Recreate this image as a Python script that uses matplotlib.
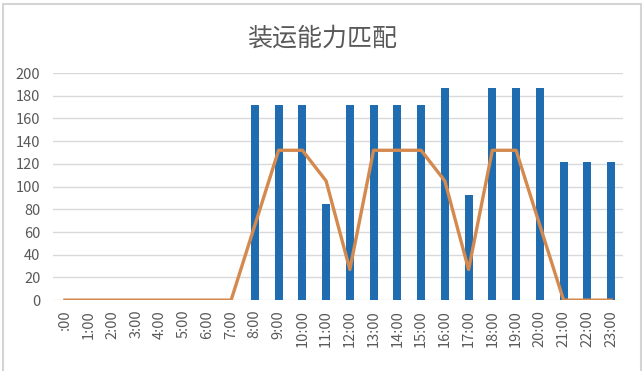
import matplotlib
matplotlib.use("Agg")
import matplotlib.pyplot as plt
from matplotlib.patches import Rectangle

plt.rcParams['font.family'] = ['Noto Sans CJK SC', 'DejaVu Sans']

title = "装运能力匹配"
hours = [":00", "1:00", "2:00", "3:00", "4:00", "5:00", "6:00", "7:00", "8:00", "9:00",
         "10:00", "11:00", "12:00", "13:00", "14:00", "15:00", "16:00", "17:00", "18:00",
         "19:00", "20:00", "21:00", "22:00", "23:00"]
capacity = [0, 0, 0, 0, 0, 0, 0, 0, 172, 172, 172, 85, 172, 172, 172, 172, 187, 93,
            187, 187, 187, 122, 122, 122]
demand = [0, 0, 0, 0, 0, 0, 0, 0, 66, 132, 132, 105, 27, 132, 132, 132, 105, 27,
          132, 132, 66, 0, 0, 0]
yticks = [0, 20, 40, 60, 80, 100, 120, 140, 160, 180, 200]

fig = plt.figure(figsize=(6.44, 3.71), dpi=100)
fig.patch.set_facecolor('white')
fig.patches.append(Rectangle((0.005, -0.05), 0.99, 1.04, transform=fig.transFigure,
                             fill=False, edgecolor='#d4d4d4', linewidth=1.5))
ax = fig.add_axes([0.0823, 0.191, 0.885, 0.612])
x = list(range(len(hours)))
ax.bar(x, capacity, width=0.34, color='#1F6DB0', zorder=2)
ax.plot(x, demand, color='#D48A4E', linewidth=2.4, zorder=3, solid_joinstyle='round')
ax.set_xlim(-0.5, 23.5)
ax.set_ylim(0, 200)
ax.set_yticks(yticks)
ax.set_xticks(x)
ax.set_xticklabels(hours, rotation=90, fontsize=10.5, color='#595959')
ax.tick_params(axis='y', labelsize=10.5, labelcolor='#595959', length=0, pad=9)
ax.tick_params(axis='x', length=0, pad=7)
ax.grid(axis='y', color='#d9d9d9', linewidth=1, zorder=0)
ax.set_axisbelow(True)
for s in ax.spines.values():
    s.set_visible(False)
fig.text(0.5, 0.897, title, ha='center', va='center', fontsize=18, color='#595959')
fig.savefig("out.png", dpi=100)
